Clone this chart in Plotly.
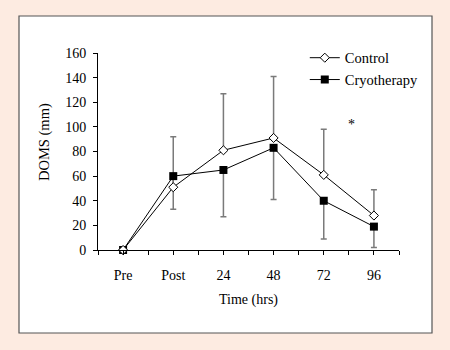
import plotly.graph_objects as go

categories = ["Pre", "Post", "24", "48", "72", "96"]
control = [0, 51, 81, 91, 61, 28]
cryo = [0, 60, 65, 83, 40, 19]
control_err_up = [0, 41, 46, 50, 37, 21]
cryo_err_down = [0, 27, 38, 42, 31, 17]
y_ticks = [0, 20, 40, 60, 80, 100, 120, 140, 160]

xpos = list(range(len(categories)))
FONT = "Liberation Serif, Times New Roman, serif"
PEACH = "#FDEBE1"
ERR = "#7a7a7a"

fig = go.Figure()

# error bars (drawn first so markers cover the zero-length ends)
fig.add_trace(go.Scatter(
    x=xpos, y=control, mode="markers", marker=dict(size=1, opacity=0),
    showlegend=False, hoverinfo="skip", cliponaxis=False,
    error_y=dict(type="data", symmetric=False, array=control_err_up,
                 arrayminus=[0] * len(control), color=ERR, thickness=1.5, width=3)))
fig.add_trace(go.Scatter(
    x=xpos, y=cryo, mode="markers", marker=dict(size=1, opacity=0),
    showlegend=False, hoverinfo="skip", cliponaxis=False,
    error_y=dict(type="data", symmetric=False, array=[0] * len(cryo),
                 arrayminus=cryo_err_down, color=ERR, thickness=1.5, width=3)))

fig.add_trace(go.Scatter(
    x=xpos, y=cryo, mode="lines+markers", name="Cryotherapy", cliponaxis=False,
    line=dict(color="black", width=1),
    marker=dict(symbol="square", size=8, color="black")))
fig.add_trace(go.Scatter(
    x=xpos, y=control, mode="lines+markers", name="Control", cliponaxis=False,
    line=dict(color="black", width=1),
    marker=dict(symbol="diamond", size=7, color="white", line=dict(color="black", width=1))))

# tick positions at categories and between them
tickvals = []
ticktext = []
for i, c in enumerate(categories):
    tickvals += [i - 0.5, i]
    ticktext += ["", c]
tickvals.append(len(categories) - 0.5)
ticktext.append("")

fig.update_layout(
    width=450, height=350,
    margin=dict(l=98, r=51, t=53, b=100),
    paper_bgcolor=PEACH, plot_bgcolor="white",
    font=dict(family=FONT, size=14, color="black"),
    legend=dict(x=0.687, y=1.057, xanchor="left", yanchor="top",
                bgcolor="rgba(0,0,0,0)", traceorder="reversed",
                font=dict(family=FONT, size=14.5, color="black")),
    xaxis=dict(range=[-0.5, 5.5], tickvals=tickvals, ticktext=ticktext,
               showgrid=False, zeroline=False, showline=True, linecolor="black",
               linewidth=1, ticks="outside", ticklen=4, tickcolor="black",
               ticklabelstandoff=8, tickfont=dict(size=14),
               title=dict(text="Time (hrs)", standoff=12,
                          font=dict(family=FONT, size=14))),
    yaxis=dict(range=[0, 160], tickvals=y_ticks, showgrid=False, zeroline=False,
               showline=True, linecolor="black", linewidth=1, ticks="outside",
               ticklen=4, tickcolor="black", ticklabelstandoff=4, tickfont=dict(size=14)),
    shapes=[dict(type="rect", xref="paper", yref="paper", layer="below",
                 x0=(19 - 98) / 301, x1=(432 - 98) / 301,
                 y0=(250 - 333) / 197, y1=(250 - 16) / 197,
                 fillcolor="white", line=dict(color="#555555", width=1.2))],
    annotations=[
        dict(x=4.55, y=102, xref="x", yref="y", text="*", showarrow=False,
             font=dict(family=FONT, size=14)),
        dict(x=(44 - 98) / 301, y=(250 - 142) / 197, xref="paper", yref="paper",
             text="DOMS (mm)", textangle=-90, showarrow=False,
             xanchor="center", yanchor="middle",
             font=dict(family=FONT, size=14.5)),
    ],
)

fig.write_html("out.html", config={"displayModeBar": False},
               post_script="document.body.style.margin='0';document.body.style.padding='0';")
